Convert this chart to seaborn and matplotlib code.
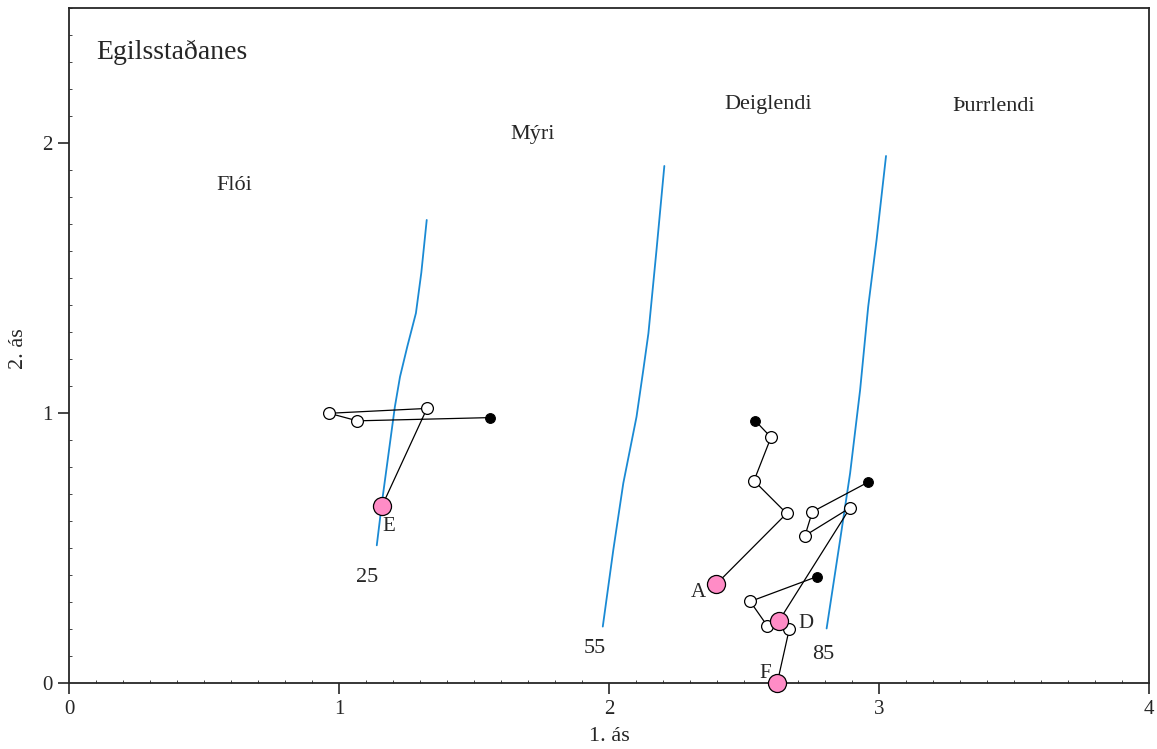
import numpy as np
import pandas as pd
import matplotlib
matplotlib.use("Agg")
import matplotlib.pyplot as plt
from matplotlib.ticker import MultipleLocator
import seaborn as sns

# Ordination trajectories: first point = start (filled black), last = end (pink, labelled)
traj_E_x = [1.559, 1.068, 0.964, 1.326, 1.160]
traj_E_y = [0.983, 0.971, 0.999, 1.017, 0.657]
traj_A_x = [2.542, 2.600, 2.537, 2.658, 2.398]
traj_A_y = [0.971, 0.910, 0.749, 0.628, 0.367]
traj_D_x = [2.958, 2.753, 2.726, 2.893, 2.630]
traj_D_y = [0.743, 0.634, 0.546, 0.649, 0.231]
traj_F_x = [2.770, 2.523, 2.586, 2.668, 2.623]
traj_F_y = [0.394, 0.302, 0.212, 0.201, 0.000]
site_names = ["E", "A", "D", "F"]

# Moisture isolines
iso_25_x = [1.140, 1.162, 1.185, 1.207, 1.226, 1.253, 1.285, 1.305, 1.325]
iso_25_y = [0.510, 0.690, 0.860, 1.023, 1.134, 1.246, 1.370, 1.520, 1.715]
iso_55_x = [1.977, 2.016, 2.053, 2.102, 2.127, 2.146, 2.176, 2.205]
iso_55_y = [0.209, 0.493, 0.740, 0.986, 1.159, 1.295, 1.604, 1.915]
iso_85_x = [2.806, 2.856, 2.893, 2.930, 2.960, 2.991, 3.026]
iso_85_y = [0.202, 0.530, 0.777, 1.085, 1.394, 1.641, 1.952]
iso_labels = ["25", "55", "85"]
iso_label_x = [1.104, 1.948, 2.793]
iso_label_y = [0.389, 0.126, 0.104]

# Habitat zones
zone_names = ["Flói", "Mýri", "Deiglendi", "Þurrlendi"]
zone_x = [0.611, 1.719, 2.589, 3.426]
zone_y = [1.844, 2.030, 2.144, 2.137]

title_text = "Egilsstaðanes"
x_label = "1. ás"
y_label = "2. ás"

sns.set_theme(style="ticks")
plt.rcParams["font.family"] = ["Liberation Serif", "DejaVu Serif"]

fig = plt.figure(figsize=(11.57, 7.49), dpi=100)
ax = fig.add_axes([0.0596, 0.0881, 0.9335, 0.9012])

blue = "#1a8ad4"
for xs, ys in [(iso_25_x, iso_25_y), (iso_55_x, iso_55_y), (iso_85_x, iso_85_y)]:
    df = pd.DataFrame({"x": xs, "y": ys})
    sns.lineplot(data=df, x="x", y="y", sort=False, color=blue, lw=1.3, ax=ax, zorder=2)
for lab, lx, ly in zip(iso_labels, iso_label_x, iso_label_y):
    ax.text(lx, ly, lab, fontsize=16, ha="center", va="center")

trajs = [(traj_E_x, traj_E_y), (traj_A_x, traj_A_y), (traj_D_x, traj_D_y), (traj_F_x, traj_F_y)]
label_offsets = [(5, -15), (-13, -6), (19, -2), (-9, 7)]
for name, (xs, ys), off in zip(site_names, trajs, label_offsets):
    df = pd.DataFrame({"x": xs, "y": ys})
    sns.lineplot(data=df, x="x", y="y", sort=False, color="black", lw=0.9, ax=ax, zorder=3)
    ax.plot(xs[0], ys[0], "o", ms=7, mfc="black", mec="black", mew=0.8, zorder=4, clip_on=False)
    ax.plot(xs[1:-1], ys[1:-1], "o", ls="none", ms=8.5, mfc="white", mec="black", mew=0.9,
            zorder=4, clip_on=False)
    ax.plot(xs[-1], ys[-1], "o", ms=13, mfc="#ff8cc6", mec="black", mew=0.9, zorder=5, clip_on=False)
    ax.annotate(name, (xs[-1], ys[-1]), xytext=off, textcoords="offset points",
                fontsize=15, ha="center", va="center", zorder=6)

for name, zx, zy in zip(zone_names, zone_x, zone_y):
    ax.text(zx, zy, name, fontsize=16, ha="center", va="center")
ax.text(0.1, 2.337, title_text, fontsize=20, ha="left", va="center")

ax.set_xlim(0, 4)
ax.set_ylim(0, 2.5)
ax.set_xticks([0, 1, 2, 3, 4])
ax.set_yticks([0, 1, 2])
ax.xaxis.set_minor_locator(MultipleLocator(0.1))
ax.yaxis.set_minor_locator(MultipleLocator(0.1))
ax.tick_params(which="major", direction="out", length=8, width=1.2, labelsize=15, pad=4)
ax.tick_params(which="minor", direction="in", length=2.5, width=0.6)
ax.set_xlabel(x_label, fontsize=16, labelpad=6)
ax.set_ylabel(y_label, fontsize=16)
ax.yaxis.set_label_coords(-0.038, 0.496)
for sp in ax.spines.values():
    sp.set_linewidth(1.3)
    sp.set_visible(True)
ax.grid(False)

fig.savefig("out.png", dpi=100)
